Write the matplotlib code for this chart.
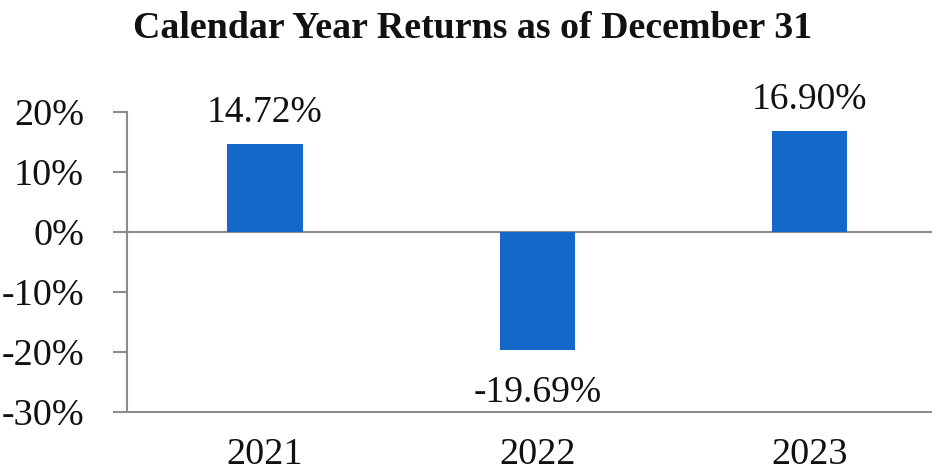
import matplotlib
matplotlib.use("Agg")
import matplotlib.pyplot as plt

years = ["2021", "2022", "2023"]
returns = [14.72, -19.69, 16.90]
value_labels = ["14.72%", "-19.69%", "16.90%"]
y_ticks = [20, 10, 0, -10, -20, -30]
y_tick_labels = ["20%", "10%", "0%", "-10%", "-20%", "-30%"]

plt.rcParams['font.family'] = ['Liberation Serif', 'DejaVu Serif']

fig = plt.figure(figsize=(9.32, 4.75), dpi=100)
ax = fig.add_axes([0.1363, 0.1326, 0.8637, 0.6316])

bar_color = '#1468CA'
grey = '#8c8c8c'
txt = '#111111'
x = list(range(len(years)))
ax.bar(x, returns, width=0.276, color=bar_color, zorder=3)

ax.set_xlim(-0.507, 2.45)
ax.set_ylim(-30, 20)
ax.set_yticks(y_ticks)
ax.set_yticklabels(y_tick_labels, fontsize=27.5, color=txt)
ax.set_xticks(x)
ax.set_xticklabels(years, fontsize=27.5, color=txt)

ax.tick_params(axis='y', length=10, width=1.5, color=grey, pad=21, direction='out')
ax.tick_params(axis='x', length=0, pad=18)

for s in ['top', 'right']:
    ax.spines[s].set_visible(False)
for s in ['left', 'bottom']:
    ax.spines[s].set_color(grey)
    ax.spines[s].set_linewidth(1.5)

ax.axhline(0, color=grey, linewidth=1.5, zorder=2)

for xi, v, lab in zip(x, returns, value_labels):
    if v >= 0:
        ax.annotate(lab, (xi, v), xytext=(0, 22), textcoords='offset points',
                    ha='center', va='center', fontsize=27, color=txt)
    else:
        ax.annotate(lab, (xi, v), xytext=(0, -31), textcoords='offset points',
                    ha='center', va='center', fontsize=27, color=txt)

fig.text(0.507, 0.94, "Calendar Year Returns as of December 31",
         ha='center', va='center', fontsize=27.3, fontweight='bold', color=txt)

fig.savefig("out.png", dpi=100)
